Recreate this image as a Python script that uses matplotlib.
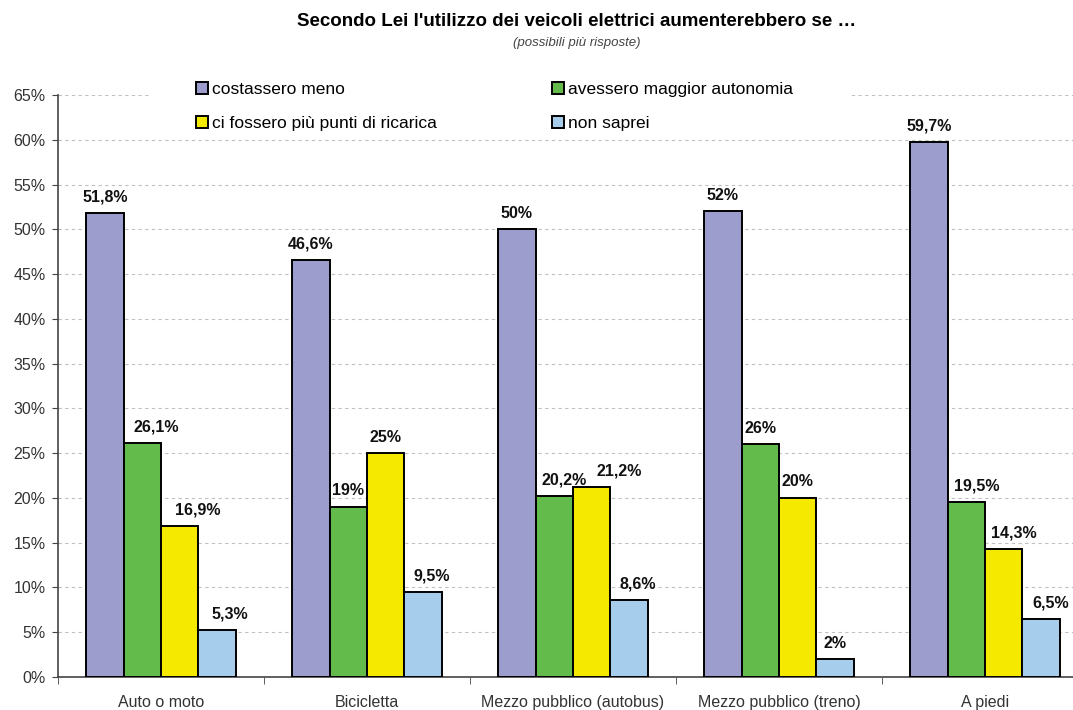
import matplotlib.pyplot as plt
import matplotlib.patches as mpatches
import numpy as np

plt.rcParams['font.family'] = ['Liberation Sans', 'DejaVu Sans']

categorie = ['Auto o moto', 'Bicicletta', 'Mezzo pubblico (autobus)',
             'Mezzo pubblico (treno)', 'A piedi']
serie = ['costassero meno', 'avessero maggior autonomia',
         'ci fossero più punti di ricarica', 'non saprei']
costo = [51.8, 46.6, 50, 52, 59.7]
autonomia = [26.1, 19, 20.2, 26, 19.5]
ricarica = [16.9, 25, 21.2, 20, 14.3]
non_saprei = [5.3, 9.5, 8.6, 2, 6.5]
colori = ['#9d9dcd', '#62bb4a', '#f5e900', '#a6cdec']

valori = [costo, autonomia, ricarica, non_saprei]

# spostamento orizzontale (pixel) delle etichette per evitare sovrapposizioni
spost = [[0, 0, 0, 0, 0],
         [14, 0, 10, 0, 10],
         [18, 0, 27, 0, 10],
         [13, 9, 9, 0, 9]]

W, H = 1073, 710
fig = plt.figure(figsize=(W / 100, H / 100), dpi=100)
# l'area del grafico prosegue oltre il bordo destro
ax = fig.add_axes([58 / W, 1 - 677 / H, 1030 / W, (677 - 95) / H])

x = np.arange(len(categorie))
w = 0.182
for i, (nome, vals, col) in enumerate(zip(serie, valori, colori)):
    pos = x + (i - 1.5) * w
    ax.bar(pos, vals, width=w, color=col, edgecolor='black', linewidth=1.4,
           label=nome, zorder=3)
    for j, (px, v) in enumerate(zip(pos, vals)):
        testo = (f'{v:g}%').replace('.', ',')
        ax.annotate(testo, (px, v), xytext=(spost[i][j], 8.5),
                    textcoords='offset pixels', ha='center', va='bottom',
                    fontsize=11.5, fontweight='bold', color='#111111')

ax.set_xlim(-0.5, len(categorie) - 0.5)
ax.set_ylim(0, 65)
ax.set_yticks(np.arange(0, 66, 5))
ax.set_yticklabels([f'{t}%' for t in range(0, 66, 5)], fontsize=11.5, color='#333333')
ax.set_xticks(x)
ax.set_xticklabels(categorie, fontsize=11.5, color='#333333')
ax.set_xticks(np.arange(-0.5, len(categorie), 1), minor=True)
ax.tick_params(axis='x', which='major', length=0, pad=13)
ax.tick_params(axis='x', which='minor', length=5, color='#444444', direction='out')
ax.tick_params(axis='y', length=4, color='#444444', pad=5)

ax.yaxis.grid(True, linestyle=(0, (3, 3)), color='#c0c0c0', linewidth=0.8, zorder=0)
ax.set_axisbelow(True)
for s in ['top', 'right']:
    ax.spines[s].set_visible(False)
for s in ['left', 'bottom']:
    ax.spines[s].set_color('#444444')
    ax.spines[s].set_linewidth(1.2)

fig.text(577 / W, 1 - 22 / H, "Secondo Lei l'utilizzo dei veicoli elettrici aumenterebbero se …",
         ha='center', va='center', fontsize=13.5, fontweight='bold')
fig.text(577 / W, 1 - 43 / H, '(possibili più risposte)', ha='center', va='center',
         fontsize=9.5, style='italic', color='#444444')

# riquadro bianco dietro la legenda
fondo = mpatches.Rectangle((150 / W, 1 - 137 / H), 700 / W, 63 / H,
                           transform=fig.transFigure, facecolor='white',
                           edgecolor='none', zorder=1)
fig.add_artist(fondo)

handles, labels = ax.get_legend_handles_labels()
ordine = [0, 2, 1, 3]
leg = fig.legend([handles[k] for k in ordine], [labels[k] for k in ordine],
                 loc='upper left', bbox_to_anchor=(196 / W, 1 - 82 / H),
                 ncol=2, frameon=False, fontsize=12.5, handlelength=0.7,
                 handleheight=0.7, handletextpad=0.25, columnspacing=6.6,
                 labelspacing=1.08, borderpad=0, borderaxespad=0)
leg.set_zorder(2)

fig.savefig('out.png', dpi=100)
